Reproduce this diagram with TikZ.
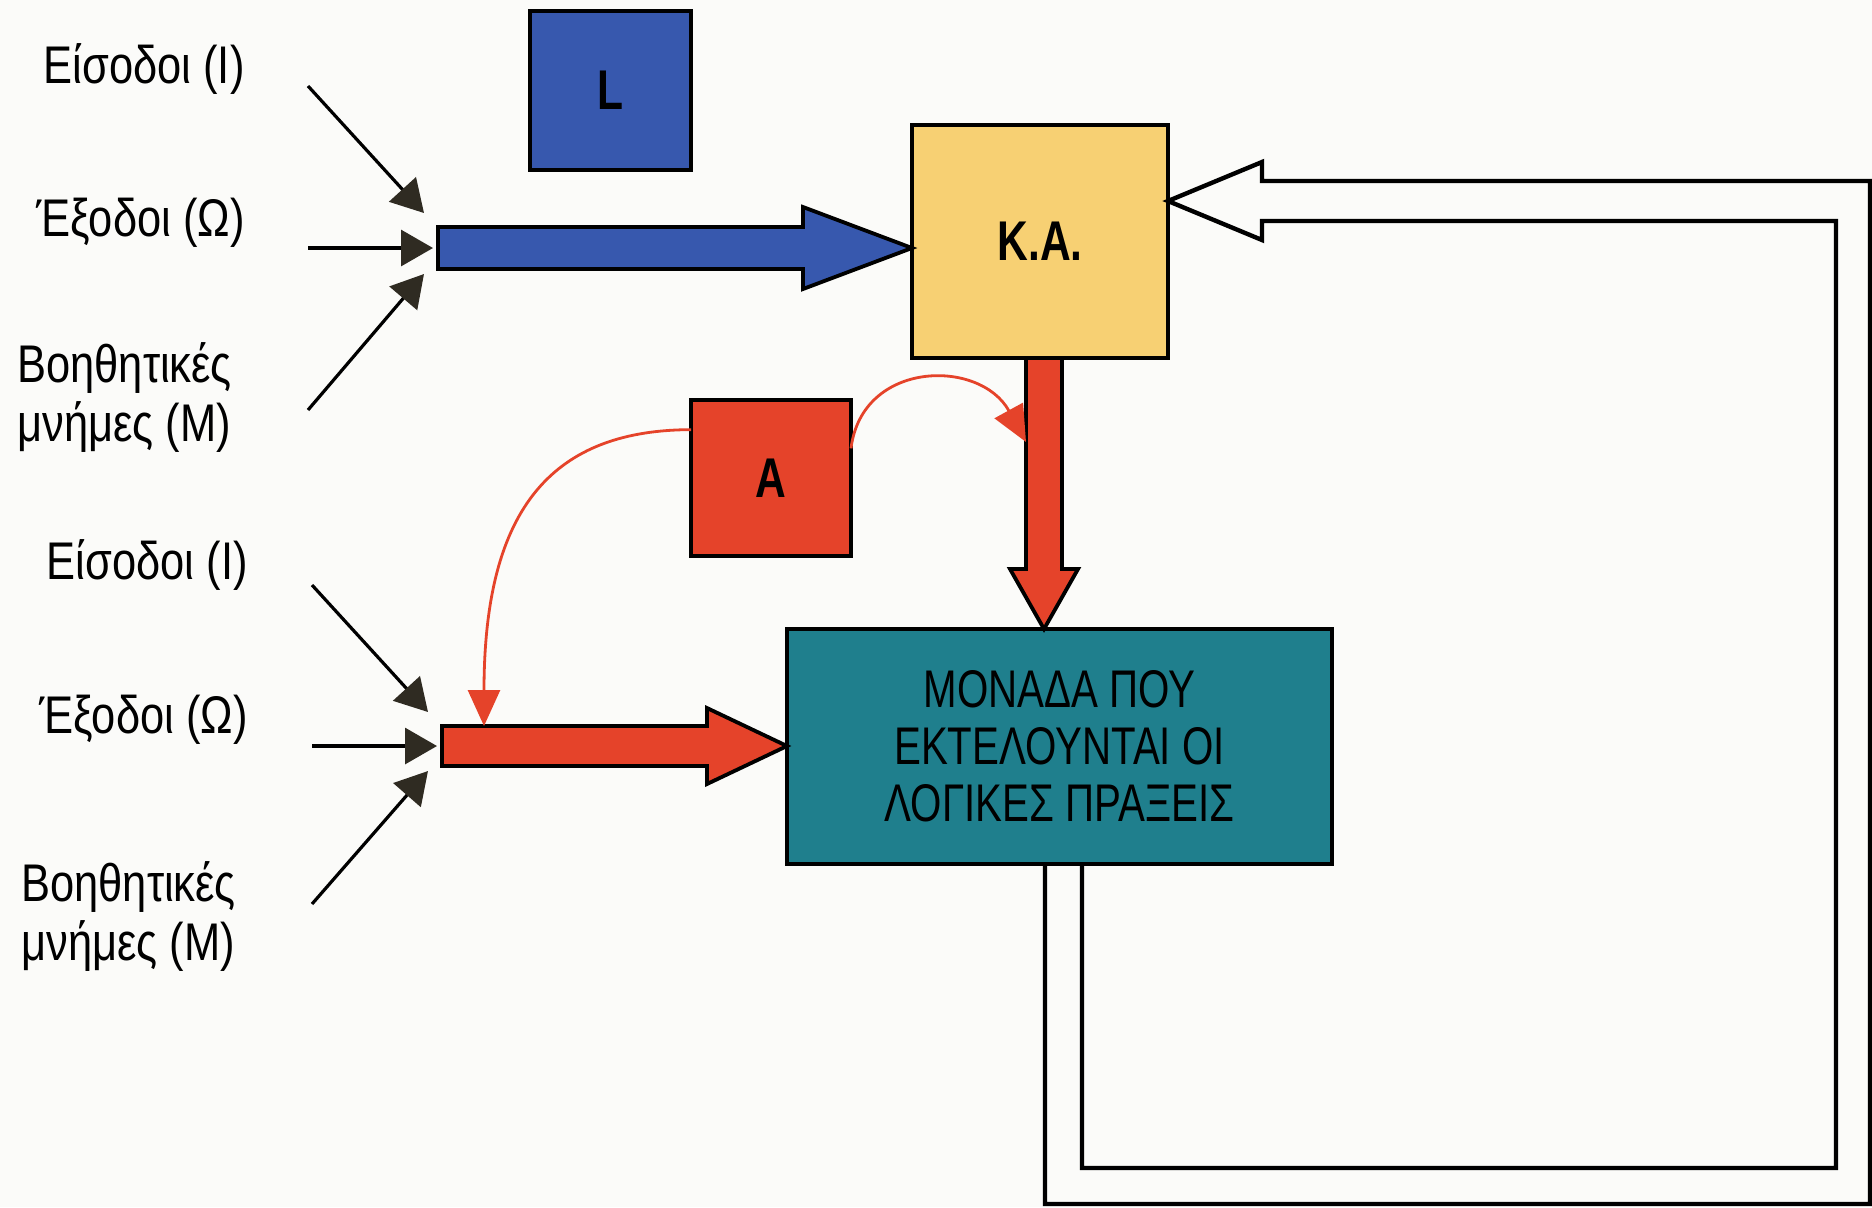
\documentclass[tikz,border=0pt]{standalone}
\usepackage{fontspec}
\setmainfont[FakeStretch=0.82]{Liberation Sans}
\newfontfamily\condfont[FakeStretch=0.76]{Liberation Sans}
\usetikzlibrary{arrows.meta,calc}
\definecolor{paper}{HTML}{FBFBF9}
\definecolor{blueL}{HTML}{3758AE}
\definecolor{yellowK}{HTML}{F7D073}
\definecolor{redA}{HTML}{E5432A}
\definecolor{tealM}{HTML}{1F7F8D}
\definecolor{headDark}{HTML}{2F2B22}
\begin{document}
\begin{tikzpicture}[x=0.5pt,y=-0.5pt,
  box/.style={draw=black,line width=2.4pt,inner sep=0pt,outer sep=0pt,
    font=\condfont\fontsize{28}{30}\selectfont\bfseries},
  lbl/.style={inner sep=0pt,font=\fontsize{26.5}{29.5}\selectfont},
  blockarrow/.style={draw=black,line width=1.9pt,line join=miter},
  feed/.style={draw=black,line width=2.2pt,line join=miter},
  smallarrow/.style={draw=black,line width=1.6pt,
    -{Triangle[length=16pt,width=18pt,color=headDark]}},
  redline/.style={draw=redA,line width=1.4pt,
    -{Triangle[length=18pt,width=16pt,color=redA]}}]
\useasboundingbox (0,0) rectangle (1872,1207);
\fill[paper] (0,0) rectangle (1872,1207);

% boxes
\node[box,fill=blueL,minimum width=80.5pt,minimum height=79.5pt] (L) at (610.5,90.5) {L};
\node[box,fill=yellowK,minimum width=128pt,minimum height=116.5pt] (KA) at (1040,241.5) {K.A.};
\node[box,fill=redA,minimum width=80pt,minimum height=78pt] (A) at (771,478) {A};
\node[box,fill=tealM,minimum width=272.5pt,minimum height=117.5pt,
  font=\condfont\fontsize{26.5}{28.5}\selectfont,align=center] (M) at (1059.5,746.5)
  {ΜΟΝΑΔΑ ΠΟΥ\\ΕΚΤΕΛΟΥΝΤΑΙ ΟΙ\\ΛΟΓΙΚΕΣ ΠΡΑΞΕΙΣ};

% labels, upper group
\node[lbl,anchor=east] (in1) at (245,69) {Είσοδοι (Ι)};
\node[lbl,anchor=east] (out1) at (245,223) {Έξοδοι (Ω)};
\node[lbl,anchor=west,align=left] (aux1) at (17,398) {Βοηθητικές\\μνήμες (Μ)};
% labels, lower group
\node[lbl,anchor=east] (in2) at (248,565) {Είσοδοι (Ι)};
\node[lbl,anchor=east] (out2) at (248,720) {Έξοδοι (Ω)};
\node[lbl,anchor=west,align=left] (aux2) at (21,916) {Βοηθητικές\\μνήμες (Μ)};

% junction points
\coordinate (j1) at (438,248);
\coordinate (j2) at (442,746);

% small input arrows, upper group
\coordinate (s1a) at (308,86);  \coordinate (t1a) at (424,213);
\coordinate (s1b) at (308,248); \coordinate (t1b) at (433,248);
\coordinate (s1c) at (308,410); \coordinate (t1c) at (424,274);
\draw[smallarrow] (s1a) -- (t1a);
\draw[smallarrow] (s1b) -- (t1b);
\draw[smallarrow] (s1c) -- (t1c);
% small input arrows, lower group
\coordinate (s2a) at (312,585); \coordinate (t2a) at (428,712);
\coordinate (s2b) at (312,746); \coordinate (t2b) at (437,746);
\coordinate (s2c) at (312,904); \coordinate (t2c) at (428,771);
\draw[smallarrow] (s2a) -- (t2a);
\draw[smallarrow] (s2b) -- (t2b);
\draw[smallarrow] (s2c) -- (t2c);

% blue block arrow into K.A.
\coordinate (kaw) at (KA.west |- j1);
\filldraw[blockarrow,fill=blueL]
  ($(j1)+(0,-21)$) -- ($(kaw)+(-109,-21)$) -- ($(kaw)+(-109,-41)$) -- (kaw)
  -- ($(kaw)+(-109,41)$) -- ($(kaw)+(-109,21)$) -- ($(j1)+(0,21)$) -- cycle;

% red block arrow from K.A. down to the logic unit
\coordinate (rd0) at ($(KA.south)+(4,0)$);
\coordinate (rd1) at (rd0 |- M.north);
\filldraw[blockarrow,fill=redA]
  ($(rd0)+(-18,0)$) -- ($(rd1)+(-18,-60)$) -- ($(rd1)+(-34,-60)$) -- (rd1)
  -- ($(rd1)+(34,-60)$) -- ($(rd1)+(18,-60)$) -- ($(rd0)+(18,0)$) -- cycle;

% red block arrow into the logic unit
\coordinate (mw) at (M.west |- j2);
\filldraw[blockarrow,fill=redA]
  ($(j2)+(0,-20)$) -- ($(mw)+(-80,-20)$) -- ($(mw)+(-80,-38)$) -- (mw)
  -- ($(mw)+(-80,38)$) -- ($(mw)+(-80,20)$) -- ($(j2)+(0,20)$) -- cycle;

% hollow feedback arrow from the logic unit back to K.A.
\coordinate (fbL) at ($(M.south)+(-14.5,0)$);
\coordinate (fbR) at ($(M.south)+(22.5,0)$);
\coordinate (fbtip) at (KA.east |- 0,201);
\draw[feed] (fbL) |- (1870,1204) |- (1262,181) -- (1262,162) -- (fbtip)
  -- (1262,240) -- (1262,221) -- (1836,221) -- (1836,1168) -| (fbR);

% thin red curves from A
\coordinate (a1) at ($(A.north west)!0.19!(A.south west)$);
\coordinate (a2) at ($(A.north east)!0.31!(A.south east)$);
\coordinate (r2) at ($(j2)+(42,-20)$);
\coordinate (r1) at ($(rd0)+(-18,84)$);
\draw[redline] (a1) .. controls (546,430) and (484,516) .. (r2);
\draw[redline] (a2) .. controls (862,360) and (980,358) .. (r1);
\end{tikzpicture}
\end{document}
